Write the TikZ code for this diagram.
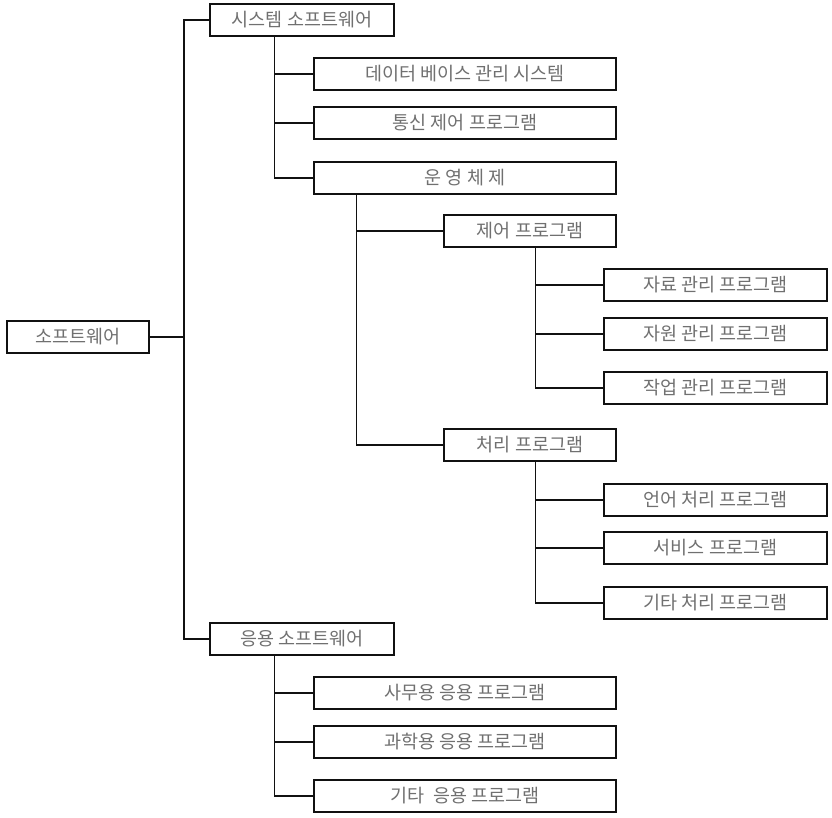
\documentclass[tikz,border=0pt]{standalone}
\usepackage{fontspec}
\usetikzlibrary{positioning,calc}
\newfontfamily\krfont{Noto Sans CJK KR}
\definecolor{treeText}{HTML}{707070}
\definecolor{treeLine}{HTML}{111111}

\tikzset{
  treebox/.style={draw=treeLine, line width=2.4pt, rectangle, inner sep=0pt,
    minimum height=32pt, text=treeText, font=\krfont\fontsize{18.5}{20}\selectfont},
  rootbox/.style={treebox, minimum width=142pt},
  midbox/.style={treebox, minimum width=184pt},
  widebox/.style={treebox, minimum width=302pt},
  subbox/.style={treebox, minimum width=172pt},
  leafbox/.style={treebox, minimum width=223pt},
  link/.style={draw=treeLine, line width=1.2pt},
}

\begin{document}
\begin{tikzpicture}[x=1pt, y=-1pt]

% --- CANVAS ---
\useasboundingbox (0,0) rectangle (832,818);

% --- ROOT + FIRST LEVEL ---
\node[rootbox] (root) at (78,337) {소프트웨어};
\node[midbox]  (sys)  at (302,20) {시스템 소프트웨어};
\node[midbox]  (app)  at (302,639) {응용 소프트웨어};

\coordinate (mainT) at (184,337);
\draw[link] (root.east) -- (mainT);
\draw[link] (sys.west) -| (mainT) |- (app.west);

% --- SYSTEM SOFTWARE ---
\coordinate (sysT) at ($(sys.south west)+(66,0)$);
\node[widebox] (db)   at (465,74)  {데이터 베이스 관리 시스템};
\node[widebox] (comm) at (465,123) {통신 제어 프로그램};
\node[widebox] (os)   at (465,178) {운 영 체 제};
\foreach \nm in {db, comm, os}
  \draw[link] (sysT) |- (\nm.west);

% --- OPERATING SYSTEM ---
\coordinate (osT) at ($(os.south west)+(44,0)$);
\node[subbox] (ctl)  at (530,231) {제어 프로그램};
\node[subbox] (proc) at (530,445) {처리 프로그램};
\draw[link] (osT) |- (ctl.west);
\draw[link] (osT) |- (proc.west);

% --- CONTROL PROGRAMS ---
\coordinate (ctlT) at ($(ctl.south west)+(93,0)$);
\foreach \nm/\yy/\txt in {data/285/자료 관리 프로그램,
                          res/334/자원 관리 프로그램,
                          job/388/작업 관리 프로그램} {
  \node[leafbox] (\nm) at (715.5,\yy) {\txt};
  \draw[link] (ctlT) |- (\nm.west);
}

% --- PROCESSING PROGRAMS ---
\coordinate (procT) at ($(proc.south west)+(93,0)$);
\foreach \nm/\yy/\txt in {lang/500/언어 처리 프로그램,
                          svc/548/서비스 프로그램,
                          misc/603/기타 처리 프로그램} {
  \node[leafbox] (\nm) at (715.5,\yy) {\txt};
  \draw[link] (procT) |- (\nm.west);
}

% --- APPLICATION SOFTWARE ---
\coordinate (appT) at ($(app.south west)+(66,0)$);
\foreach \nm/\yy/\txt in {office/693/사무용 응용 프로그램,
                          sci/742/과학용 응용 프로그램,
                          other/796/기타\ \ 응용 프로그램} {
  \node[widebox] (\nm) at (465,\yy) {\txt};
  \draw[link] (appT) |- (\nm.west);
}

\end{tikzpicture}
\end{document}
